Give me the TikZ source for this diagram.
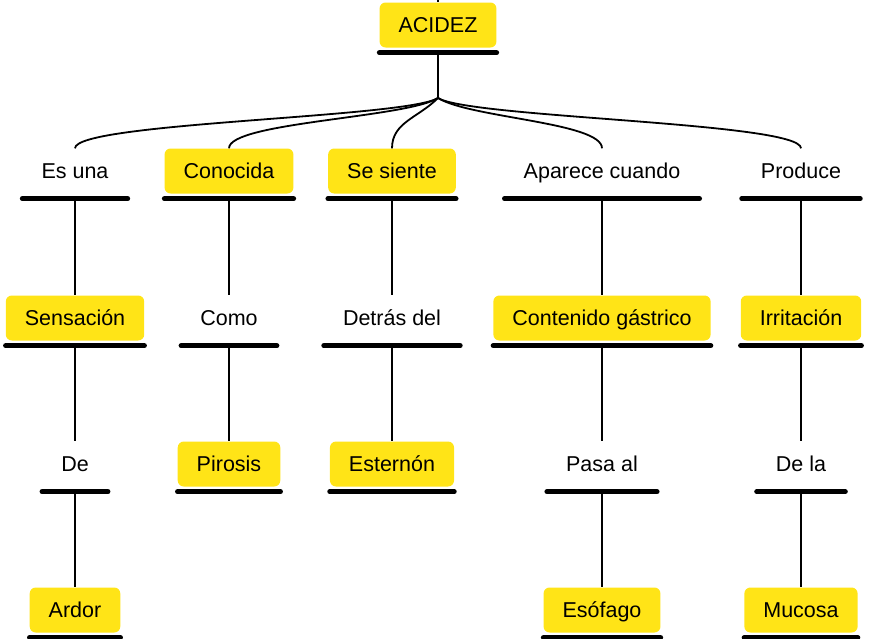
\documentclass[tikz,border=0pt]{standalone}
\usepackage{fontspec}
\setmainfont{Liberation Sans}
\definecolor{hlyellow}{HTML}{FFE417}
\tikzset{
  plainbox/.style={rounded corners=6pt, minimum height=45pt, inner xsep=19pt, inner ysep=0pt,
    text height=15pt, text depth=0pt, font=\fontsize{21.5}{25}\selectfont},
  hlbox/.style={plainbox, fill=hlyellow},
  bar/.style={line width=5pt, line cap=round},
  link/.style={line width=1.8pt},
}

\begin{document}
\begin{tikzpicture}[x=1pt,y=1pt]
  \useasboundingbox (0,0) rectangle (873,-638);
  % root
  \node[hlbox] (acidez) at (438,-25) {ACIDEZ};
  \coordinate (top) at (438,0);
  \coordinate (hub) at (438,-98);
  % first row
  \node[plainbox] (esuna) at (75,-171) {Es una};
  \node[hlbox] (conocida) at (229,-171) {Conocida};
  \node[hlbox] (sesiente) at (392,-171) {Se siente};
  \node[plainbox] (aparece) at (602,-171) {Aparece cuando};
  \node[plainbox] (produce) at (801,-171) {Produce};
  % second row
  \node[hlbox] (sensacion) at (75,-318) {Sensación};
  \node[plainbox] (como) at (229,-318) {Como};
  \node[plainbox] (detras) at (392,-318) {Detrás del};
  \node[hlbox] (contenido) at (602,-318) {Contenido gástrico};
  \node[hlbox] (irritacion) at (801,-318) {Irritación};
  % third row
  \node[plainbox] (de) at (75,-464) {De};
  \node[hlbox] (pirosis) at (229,-464) {Pirosis};
  \node[hlbox] (esternon) at (392,-464) {Esternón};
  \node[plainbox] (pasa) at (602,-464) {Pasa al};
  \node[plainbox] (dela) at (801,-464) {De la};
  % fourth row
  \node[hlbox] (ardor) at (75,-610) {Ardor};
  \node[hlbox] (esofago) at (602,-610) {Esófago};
  \node[hlbox] (mucosa) at (801,-610) {Mucosa};

  % underlines
  \foreach \n in {acidez,esuna,conocida,sesiente,aparece,produce,
                  sensacion,como,detras,contenido,irritacion,
                  de,pirosis,esternon,pasa,dela,ardor,esofago,mucosa}
    \draw[bar] ([yshift=-5pt]\n.south west) -- ([yshift=-5pt]\n.south east);

  % root links
  \draw[link] (top) -- (acidez.north);
  \draw[link] ([yshift=-5pt]acidez.south) -- (hub);
  \foreach \n/\dx in {esuna/-32,conocida/-32,sesiente/-20,aparece/32,produce/32}
    \draw[link] (hub) .. controls ([shift={(\dx,-20)}]hub) and ([yshift=26pt]\n.north) .. (\n.north);

  % straight links
  \foreach \a/\b in {esuna/sensacion,sensacion/de,de/ardor,
                     conocida/como,como/pirosis,
                     sesiente/detras,detras/esternon,
                     aparece/contenido,contenido/pasa,pasa/esofago,
                     produce/irritacion,irritacion/dela,dela/mucosa}
    \draw[link] ([yshift=-5pt]\a.south) -- (\b.north);
\end{tikzpicture}
\end{document}
